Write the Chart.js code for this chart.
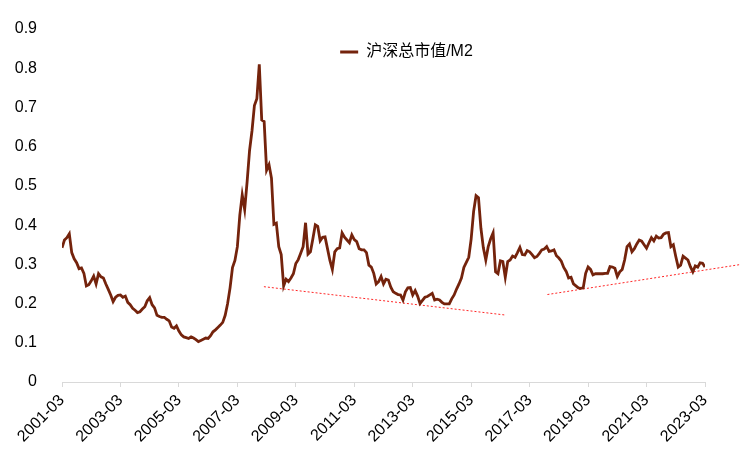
<!DOCTYPE html>
<html>
<head>
<meta charset="utf-8">
<script src="https://cdn.jsdelivr.net/npm/chart.js@4/dist/chart.umd.min.js"></script>
<style>
  html, body { margin: 0; padding: 0; background: #fff; }
  #wrap { width: 740px; height: 471px; }
</style>
</head>
<body>
<div id="wrap"><canvas id="mktChart" width="740" height="471"></canvas></div>
<script>
// monthly series, 2001-03 .. 2023-03 (index 0 = 2001-03)
const startYear = 2001, startMonth = 3;
const seriesName = '沪深总市值/M2';
const capToM2 = [
  0.342, 0.362, 0.368, 0.378, 0.330, 0.314, 0.304, 0.289, 0.291, 0.277,
  0.245, 0.248, 0.258, 0.270, 0.250, 0.276, 0.268, 0.265, 0.250, 0.236,
  0.222, 0.205, 0.216, 0.221, 0.222, 0.216, 0.219, 0.203, 0.197, 0.188,
  0.183, 0.177, 0.179, 0.186, 0.192, 0.207, 0.215, 0.197, 0.189, 0.170,
  0.167, 0.165, 0.165, 0.160, 0.156, 0.140, 0.137, 0.143, 0.130, 0.120,
  0.115, 0.113, 0.111, 0.115, 0.112, 0.108, 0.103, 0.106, 0.109, 0.112,
  0.111, 0.118, 0.128, 0.133, 0.139, 0.145, 0.152, 0.170, 0.200, 0.240,
  0.292, 0.310, 0.345, 0.425, 0.477, 0.440, 0.510, 0.590, 0.640, 0.705,
  0.722, 0.810, 0.668, 0.664, 0.540, 0.554, 0.520, 0.402, 0.405, 0.345,
  0.325, 0.245, 0.262, 0.256, 0.265, 0.276, 0.302, 0.312, 0.328, 0.345,
  0.406, 0.326, 0.332, 0.365, 0.401, 0.397, 0.360, 0.369, 0.370, 0.340,
  0.310, 0.287, 0.332, 0.340, 0.342, 0.380, 0.369, 0.362, 0.355, 0.375,
  0.363, 0.358, 0.340, 0.337, 0.337, 0.330, 0.298, 0.293, 0.277, 0.250,
  0.256, 0.269, 0.250, 0.262, 0.260, 0.242, 0.230, 0.226, 0.223, 0.222,
  0.209, 0.230, 0.240, 0.241, 0.222, 0.233, 0.219, 0.200, 0.208, 0.216,
  0.218, 0.222, 0.226, 0.209, 0.211, 0.209, 0.203, 0.199, 0.199, 0.199,
  0.212, 0.222, 0.237, 0.250, 0.265, 0.292, 0.305, 0.318, 0.365, 0.435,
  0.475, 0.470, 0.392, 0.342, 0.311, 0.345, 0.365, 0.380, 0.281, 0.276,
  0.309, 0.307, 0.267, 0.307, 0.311, 0.321, 0.318, 0.330, 0.343, 0.325,
  0.324, 0.335, 0.332, 0.325, 0.317, 0.320, 0.328, 0.337, 0.339, 0.345,
  0.333, 0.334, 0.337, 0.322, 0.316, 0.308, 0.292, 0.282, 0.265, 0.267,
  0.250, 0.245, 0.240, 0.239, 0.240, 0.277, 0.293, 0.287, 0.273, 0.276,
  0.276, 0.276, 0.276, 0.277, 0.277, 0.294, 0.293, 0.290, 0.269, 0.281,
  0.287, 0.311, 0.345, 0.352, 0.332, 0.340, 0.352, 0.362, 0.359, 0.350,
  0.341, 0.355, 0.368, 0.360, 0.372, 0.367, 0.368, 0.377, 0.380, 0.381,
  0.345, 0.350, 0.320, 0.293, 0.298, 0.321, 0.316, 0.311, 0.294, 0.281,
  0.296, 0.293, 0.304, 0.303, 0.293
];
// dotted support lines: [month index, value] end points
const trendA = [[82.9, 0.243], [181.7, 0.171]];
const trendB = [[199.3, 0.223], [278, 0.299]];
const xTickLabels = ['2001-03', '2003-03', '2005-03', '2007-03', '2009-03', '2011-03',
  '2013-03', '2015-03', '2017-03', '2019-03', '2021-03', '2023-03'];
const yTickLabels = ['0', '0.1', '0.2', '0.3', '0.4', '0.5', '0.6', '0.7', '0.8', '0.9'];

const monthLabel = (i) => {
  const m = startMonth - 1 + i;
  const y = startYear + Math.floor(m / 12);
  return y + '-' + String((m % 12) + 1).padStart(2, '0');
};

const font = "Arial, 'Liberation Sans', 'Noto Sans CJK SC', sans-serif";
const lineColor = '#74230c';

const trendSet = (pts) => ({
  data: pts.map(([x, y]) => ({ x, y })),
  borderColor: 'rgba(255, 0, 0, 0.85)',
  borderWidth: 1,
  borderDash: [2, 2],
  pointRadius: 0,
  clip: false,
});

// legend sits inside the plot, top, a little right of centre
const legendPlace = {
  id: 'legendPlace',
  afterLayout(chart) {
    const lg = chart.legend, ca = chart.chartArea;
    if (!lg || !lg.legendHitBoxes.length) return;
    const w = lg.legendHitBoxes[0].width;
    const pad = lg.options.labels.padding;
    const cx = (ca.left + ca.right) / 2 + 23;
    lg.left = cx - w / 2 - pad;
    lg.right = lg.left + w + 2 * pad;
    lg.top = ca.top;
    lg.bottom = ca.top + 60;
  },
};

new Chart(document.getElementById('mktChart'), {
  type: 'line',
  data: {
    datasets: [
      {
        label: seriesName,
        data: capToM2.map((v, i) => ({ x: i, y: v, month: monthLabel(i) })),
        borderColor: lineColor,
        backgroundColor: lineColor,
        borderWidth: 2.8,
        pointRadius: 0,
        tension: 0,
      },
      trendSet(trendA),
      trendSet(trendB),
    ],
  },
  options: {
    responsive: false,
    animation: false,
    layout: { padding: { top: 29, right: 35, left: 0, bottom: 0 } },
    plugins: {
      legend: {
        position: 'chartArea',
        align: 'start',
        labels: {
          filter: (item) => item.datasetIndex === 0,
          generateLabels: (chart) =>
            Chart.defaults.plugins.legend.labels.generateLabels(chart)
              .map((it) => ({ ...it, lineWidth: 0 })),
          boxWidth: 18,
          boxHeight: 3,
          padding: 15,
          color: '#000',
          font: { family: font, size: 16 },
        },
      },
      tooltip: { enabled: false },
    },
    scales: {
      x: {
        type: 'linear',
        min: 0,
        max: capToM2.length - 1,
        afterFit: (s) => { s.height = 89; },
        grid: { drawOnChartArea: false, drawTicks: true, tickLength: 5, color: '#d9d9d9' },
        border: { display: true, color: '#d9d9d9', width: 1 },
        ticks: {
          stepSize: 24,
          autoSkip: false,
          maxRotation: 45,
          minRotation: 45,
          padding: 4,
          color: '#000',
          font: { family: font, size: 16 },
          callback: (v) => xTickLabels[v / 24] ?? '',
        },
      },
      y: {
        min: 0,
        max: 0.9,
        afterFit: (s) => { s.width = 62; },
        grid: { display: false },
        border: { display: false },
        ticks: {
          stepSize: 0.1,
          padding: 17,
          color: '#000',
          font: { family: font, size: 16 },
          callback: (v) => yTickLabels[Math.round(v * 10)],
        },
      },
    },
  },
  plugins: [legendPlace],
});
</script>
</body>
</html>
